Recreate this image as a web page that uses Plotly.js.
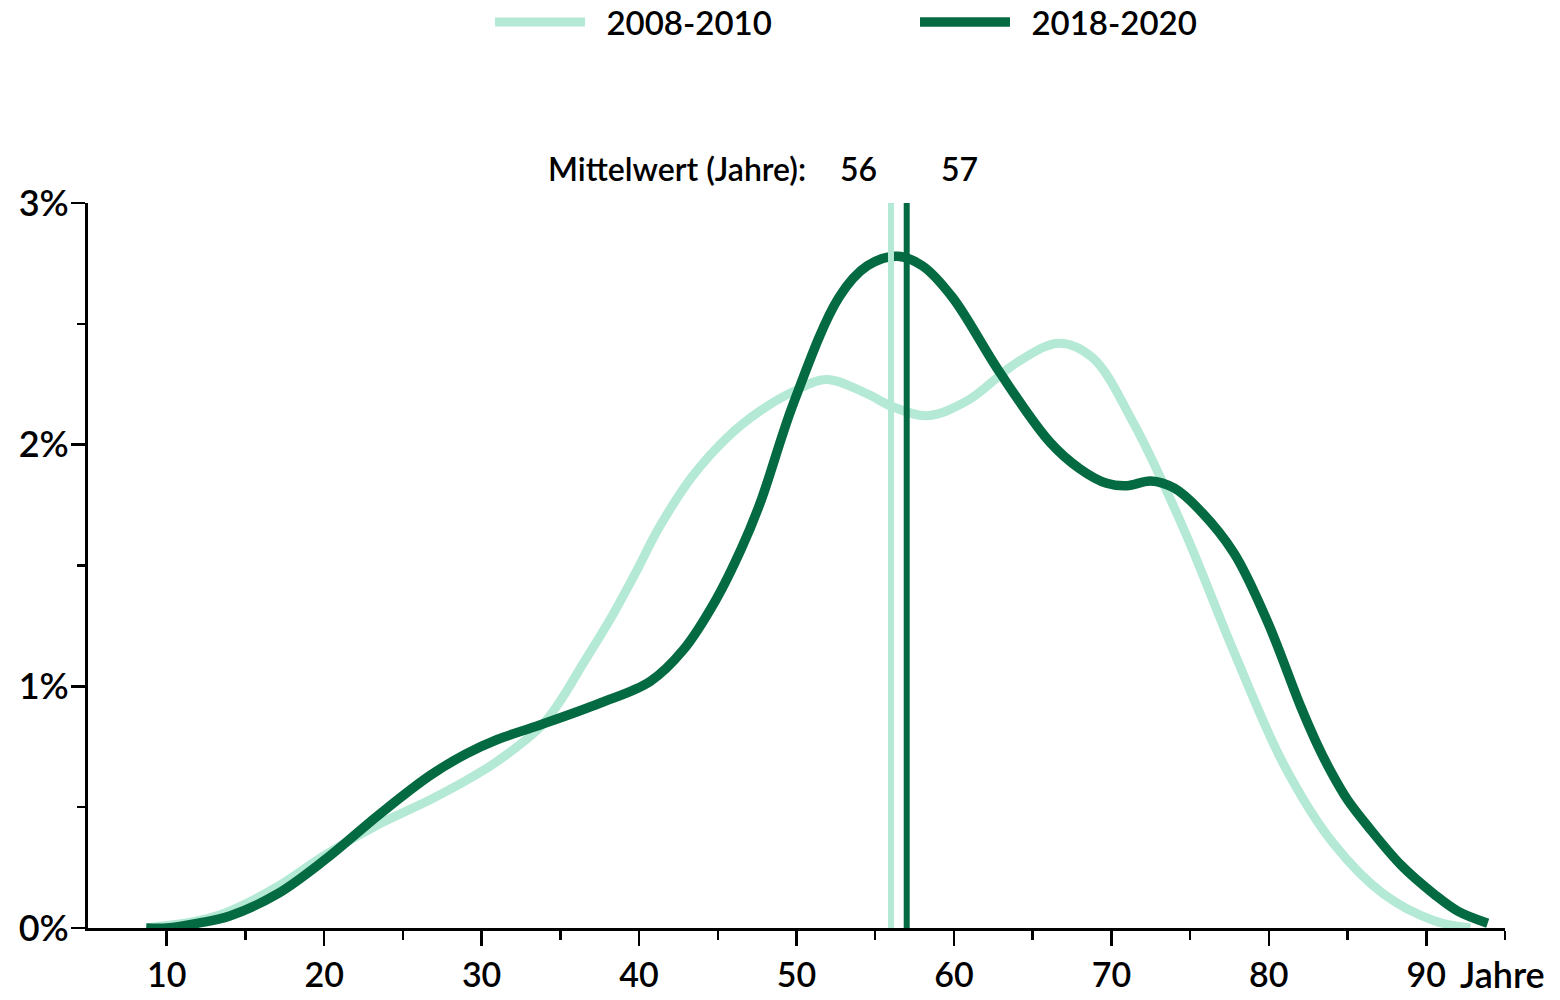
<!DOCTYPE html>
<html>
<head>
<meta charset="utf-8">
<script src="https://cdn.plot.ly/plotly-3.0.1.min.js"></script>
<style>
  html, body { margin: 0; padding: 0; background: #fff; }
  #chart { width: 1560px; height: 1000px; }
</style>
</head>
<body>
<div id="chart"></div>
<script>
// ---- Data ----
const seriesNames = ["2008-2010", "2018-2020"];
const seriesColors = ["#b4e9d6", "#046a41"];

// Age (years) and share (%) for 2008-2010
const ages2008 = [8.7, 10, 12, 14, 17, 20, 23.5, 26.7, 29, 31, 33.7, 34.9, 36.5, 38.1, 39.7, 41.3, 43.4, 45.6, 47.7, 49.8, 51.9, 54.5, 56, 58.3, 60.8, 64, 66.7, 68.8, 71.4, 74.6, 77.8, 81, 84.1, 87.3, 90.5, 92.8];
const share2008 = [0, 0.01, 0.03, 0.07, 0.17, 0.30, 0.43, 0.53, 0.61, 0.69, 0.83, 0.93, 1.10, 1.27, 1.46, 1.66, 1.87, 2.03, 2.14, 2.22, 2.27, 2.21, 2.16, 2.12, 2.18, 2.34, 2.42, 2.36, 2.09, 1.65, 1.14, 0.67, 0.35, 0.14, 0.03, 0.0];

// Age (years) and share (%) for 2018-2020
const ages2018 = [8.7, 10, 12, 14, 17, 20, 23.5, 26.7, 29, 31, 33.7, 37.5, 40.7, 42.8, 44.9, 46.5, 47.7, 49.8, 52.7, 54.5, 56.4, 58, 59.9, 62.9, 66.1, 68, 69.7, 71, 72.5, 74, 75.6, 77.8, 79.9, 82, 83, 84, 85, 86.3, 88.4, 90.5, 92, 93.9];
const share2018 = [0, 0.0, 0.02, 0.05, 0.14, 0.28, 0.47, 0.63, 0.72, 0.78, 0.84, 0.93, 1.02, 1.15, 1.36, 1.57, 1.76, 2.17, 2.61, 2.74, 2.78, 2.74, 2.61, 2.30, 2.01, 1.90, 1.84, 1.83, 1.85, 1.82, 1.73, 1.55, 1.27, 0.92, 0.77, 0.64, 0.53, 0.42, 0.26, 0.14, 0.07, 0.02];

// Mean age per period
const meanAges = [56, 57];
const meanLabel = "Mittelwert (Jahre):";

// Axis ticks
const xTickVals = [10, 20, 30, 40, 50, 60, 70, 80, 90];
const xTickText = ["10", "20", "30", "40", "50", "60", "70", "80", "90"];
const xMinorVals = [15, 25, 35, 45, 55, 65, 75, 85, 95];
const xUnit = "Jahre";
const yTickVals = [0, 1, 2, 3];
const yTickText = ["0%", "1%", "2%", "3%"];

// ---- Chart ----
const FONT = "Lato, 'Open Sans', sans-serif";
const W = 600;
const PAD = "\u00a0\u00a0";

const traces = [
  {
    x: ages2008, y: share2008, name: PAD + seriesNames[0], type: "scatter", mode: "lines",
    line: { color: seriesColors[0], width: 9, shape: "spline", smoothing: 1 }
  },
  {
    x: ages2018, y: share2018, name: PAD + seriesNames[1], type: "scatter", mode: "lines",
    line: { color: seriesColors[1], width: 9.5, shape: "spline", smoothing: 1 }
  },
  {
    x: [meanAges[0], meanAges[0]], y: [0, 3], type: "scatter", mode: "lines", showlegend: false,
    line: { color: seriesColors[0], width: 6 }
  },
  {
    x: [meanAges[1], meanAges[1]], y: [0, 3], type: "scatter", mode: "lines", showlegend: false,
    line: { color: seriesColors[1], width: 6 }
  }
];

const layout = {
  width: 1560, height: 1000,
  margin: { l: 88, r: 55, t: 203, b: 72, pad: 0, autoexpand: false },
  paper_bgcolor: "#ffffff", plot_bgcolor: "#ffffff",
  font: { family: FONT, color: "#000000", size: 33, weight: W },
  showlegend: true,
  legend: {
    orientation: "h", xref: "container", x: 490 / 1560, xanchor: "left",
    yref: "container", y: 1 - 22 / 1000, yanchor: "middle",
    font: { family: FONT, size: 33, color: "#000", weight: W },
    itemwidth: 90, entrywidth: 320, entrywidthmode: "pixels",
    bgcolor: "rgba(0,0,0,0)"
  },
  xaxis: {
    range: [5, 95], showgrid: false, zeroline: false,
    showline: true, linecolor: "#000", linewidth: 3,
    tickmode: "array", tickvals: xTickVals, ticktext: xTickText,
    ticks: "outside", ticklen: 15, tickwidth: 2.5, tickcolor: "#000",
    tickfont: { family: FONT, size: 34, color: "#000", weight: W },
    minor: { tickmode: "array", tickvals: xMinorVals, ticks: "outside", ticklen: 9, tickwidth: 2.5, tickcolor: "#000", showgrid: false },
    fixedrange: true
  },
  yaxis: {
    range: [0, 3], showgrid: false, zeroline: false,
    showline: true, linecolor: "#000", linewidth: 3,
    tickmode: "array", tickvals: yTickVals, ticktext: yTickText,
    ticks: "outside", ticklen: 14, tickwidth: 2.5, tickcolor: "#000",
    ticklabelstandoff: -5,
    tickfont: { family: FONT, size: 36, color: "#000", weight: W },
    minor: { dtick: 0.5, tick0: 0, ticks: "outside", ticklen: 8, tickwidth: 2.5, tickcolor: "#000", showgrid: false },
    fixedrange: true
  },
  annotations: [
    { text: meanLabel, xref: "x", x: meanAges[0], xshift: -83, xanchor: "right",
      yref: "paper", y: 1.048, yanchor: "middle", showarrow: false,
      font: { family: FONT, size: 32, color: "#000", weight: W } },
    { text: String(meanAges[0]), xref: "x", x: meanAges[0], xshift: -32, xanchor: "center",
      yref: "paper", y: 1.048, yanchor: "middle", showarrow: false,
      font: { family: FONT, size: 32, color: "#000", weight: W } },
    { text: String(meanAges[1]), xref: "x", x: meanAges[1], xshift: 53, xanchor: "center",
      yref: "paper", y: 1.048, yanchor: "middle", showarrow: false,
      font: { family: FONT, size: 32, color: "#000", weight: W } },
    { text: xUnit, xref: "paper", x: 0.967, xanchor: "left",
      yref: "paper", y: -0.063, yanchor: "middle", showarrow: false,
      font: { family: FONT, size: 36, color: "#000", weight: W } }
  ]
};

Plotly.newPlot("chart", traces, layout, { staticPlot: true, displayModeBar: false });
</script>
</body>
</html>
